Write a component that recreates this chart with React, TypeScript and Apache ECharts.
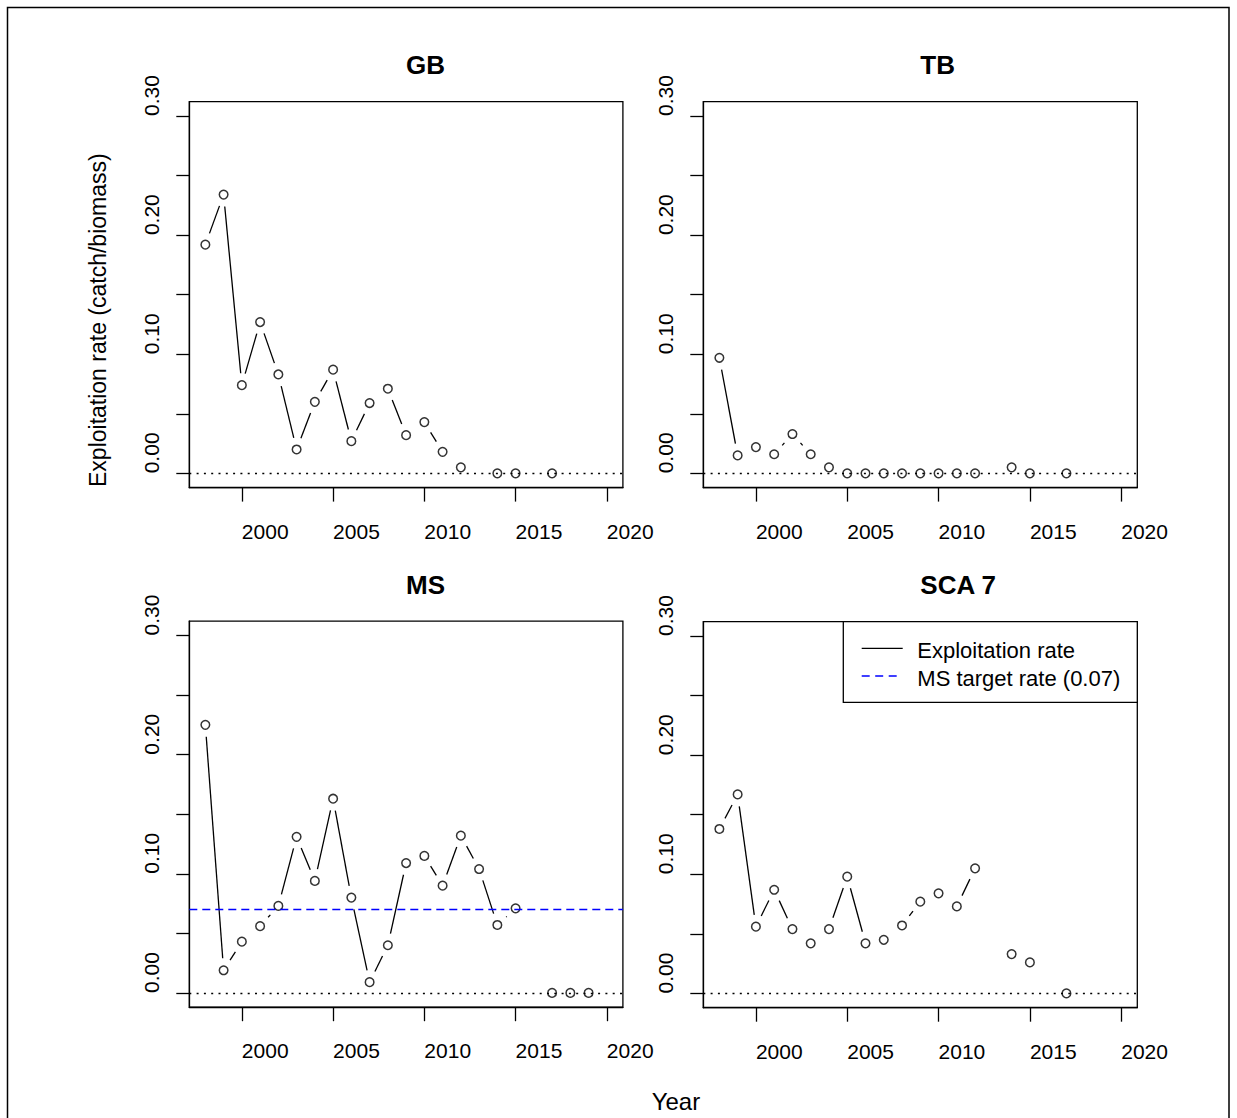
import React, { useEffect, useRef } from "react";
import * as echarts from "echarts";

// ---- data ----
const years = [1998, 1999, 2000, 2001, 2002, 2003, 2004, 2005, 2006, 2007, 2008, 2009, 2010, 2011, 2012, 2013, 2014, 2015, 2016, 2017, 2018, 2019];

const gbRate = [0.192, 0.234, 0.074, 0.127, 0.083, 0.020, 0.060, 0.087, 0.027, 0.059, 0.071, 0.032, 0.043, 0.018, 0.005, null, 0.0, 0.0, null, 0.0, null, null];
const tbRate = [0.097, 0.015, 0.022, 0.016, 0.033, 0.016, 0.005, 0.0, 0.0, 0.0, 0.0, 0.0, 0.0, 0.0, 0.0, null, 0.005, 0.0, null, 0.0, null, null];
const msRate = [0.225, 0.019, 0.043, 0.056, 0.073, 0.131, 0.094, 0.163, 0.080, 0.009, 0.040, 0.109, 0.115, 0.090, 0.132, 0.104, 0.057, 0.071, null, 0.0, 0.0, 0.0];
const scaRate = [0.138, 0.167, 0.056, 0.087, 0.054, 0.042, 0.054, 0.098, 0.042, 0.045, 0.057, 0.077, 0.084, 0.073, 0.105, null, 0.033, 0.026, null, 0.0, null, null];

const panelTitles = ["GB", "TB", "MS", "SCA 7"];
const yTicks = [0, 0.05, 0.1, 0.15, 0.2, 0.25, 0.3];
const yLabels = [0, 0.1, 0.2, 0.3];
const xTicks = [2000, 2005, 2010, 2015, 2020];
const msTarget = 0.07;
const legendLabels = ["Exploitation rate", "MS target rate (0.07)"];
const yAxisTitle = "Exploitation rate (catch/biomass)";
const xAxisTitle = "Year";

const FONT = "'Liberation Sans', Arial, Helvetica, sans-serif";
const LW = 1.3;
const GAP = 12;

const grids = [
  { left: 189.3, top: 101.7, width: 433.6, height: 385.9 },
  { left: 703.3, top: 101.7, width: 434, height: 385.9 },
  { left: 189.3, top: 621.2, width: 433.6, height: 386 },
  { left: 703.3, top: 621.7, width: 434, height: 386 },
];

function pts(vals: (number | null)[]) {
  const out: number[][] = [];
  vals.forEach((v, i) => {
    if (v !== null) out.push([years[i], v]);
  });
  return out;
}

function segSeries(vals: (number | null)[], gi: number) {
  const p = pts(vals);
  return {
    type: "custom",
    xAxisIndex: gi,
    yAxisIndex: gi,
    data: p,
    encode: { x: 0, y: 1 },
    silent: true,
    renderItem: (params: any, api: any) => {
      const i = params.dataIndex;
      if (i >= p.length - 1) return null;
      if (p[i + 1][0] !== p[i][0] + 1) return null;
      const a = api.coord(p[i]);
      const b = api.coord(p[i + 1]);
      const dx = b[0] - a[0];
      const dy = b[1] - a[1];
      const d = Math.hypot(dx, dy);
      if (d <= 2 * GAP) return null;
      const ux = dx / d;
      const uy = dy / d;
      return {
        type: "line",
        shape: { x1: a[0] + ux * GAP, y1: a[1] + uy * GAP, x2: b[0] - ux * GAP, y2: b[1] - uy * GAP },
        style: { stroke: "#000", lineWidth: LW },
      };
    },
  };
}

function pointSeries(vals: (number | null)[], gi: number, extraLines: any[] = []) {
  return {
    type: "scatter",
    xAxisIndex: gi,
    yAxisIndex: gi,
    data: pts(vals),
    symbol: "circle",
    symbolSize: 8.6,
    silent: true,
    itemStyle: { color: "rgba(0,0,0,0)", borderColor: "#000", borderWidth: 1.5 },
    markLine: {
      silent: true,
      symbol: "none",
      label: { show: false },
      lineStyle: { type: [2, 5.3], color: "#000", width: LW },
      data: [{ yAxis: 0 }, ...extraLines],
    },
    z: 3,
  };
}

export default function App() {
  const ref = useRef<HTMLDivElement>(null);
  useEffect(() => {
    if (!ref.current) return;
    const chart = echarts.init(ref.current, null, { renderer: "svg" });
    const all = [gbRate, tbRate, msRate, scaRate];

    const xAxes = grids.map((_, gi) => ({
      type: "value",
      gridIndex: gi,
      min: 1997.12,
      max: 2020.88,
      axisLine: { show: true, onZero: false, lineStyle: { color: "#000", width: LW } },
      axisTick: { show: true, customValues: xTicks, length: 14, inside: false, lineStyle: { color: "#000", width: LW } },
      axisLabel: {
        show: true,
        customValues: xTicks,
        formatter: (v: number) => String(Math.round(v)),
        align: "left",
        verticalAlign: "middle",
        margin: 43.5,
        fontSize: 21,
        fontFamily: FONT,
        color: "#000",
      },
      splitLine: { show: false },
    }));

    const yAxes = grids.map((_, gi) => ({
      type: "value",
      gridIndex: gi,
      min: -0.012,
      max: 0.312,
      axisLine: { show: true, onZero: false, lineStyle: { color: "#000", width: LW } },
      axisTick: { show: true, customValues: yTicks, length: 13, inside: false, lineStyle: { color: "#000", width: LW } },
      axisLabel: {
        show: true,
        customValues: yLabels,
        formatter: (v: number) => v.toFixed(2),
        rotate: 90,
        align: "left",
        verticalAlign: "middle",
        margin: 38,
        fontSize: 21,
        fontFamily: FONT,
        color: "#000",
      },
      splitLine: { show: false },
    }));

    const series: any[] = [];
    all.forEach((vals, gi) => {
      series.push(segSeries(vals, gi));
      const extra =
        gi === 2
          ? [{ yAxis: msTarget, lineStyle: { color: "#0000ff", type: [8, 5], width: LW } }]
          : [];
      series.push(pointSeries(vals, gi, extra));
    });

    const titlePos = [
      [406, 65],
      [920.3, 65],
      [406, 585],
      [920.3, 585],
    ];

    const graphics: any[] = [
      {
        type: "rect",
        shape: { x: 7.5, y: 7.5, width: 1221.5, height: 1130 },
        style: { fill: "none", stroke: "#000", lineWidth: 1.5 },
        silent: true,
      },
      ...panelTitles.map((t, i) => ({
        type: "text",
        x: titlePos[i][0],
        y: titlePos[i][1],
        style: {
          text: t,
          fontSize: 26,
          fontWeight: "bold",
          fontFamily: FONT,
          fill: "#000",
          textAlign: "left",
          textVerticalAlign: "middle",
        },
      })),
      {
        type: "text",
        x: 98,
        y: 487,
        rotation: Math.PI / 2,
        style: {
          text: yAxisTitle,
          fontSize: 23,
          fontFamily: FONT,
          fill: "#000",
          textAlign: "left",
          textVerticalAlign: "middle",
        },
      },
      {
        type: "text",
        x: 651.7,
        y: 1101.5,
        style: {
          text: xAxisTitle,
          fontSize: 24,
          fontFamily: FONT,
          fill: "#000",
          textAlign: "left",
          textVerticalAlign: "middle",
        },
      },
      // legend
      {
        type: "rect",
        shape: { x: 843.3, y: 621.7, width: 294, height: 80.6 },
        style: { fill: "#fff", stroke: "#000", lineWidth: LW },
        z: 10,
      },
      {
        type: "line",
        shape: { x1: 861.7, y1: 648.3, x2: 902.7, y2: 648.3 },
        style: { stroke: "#000", lineWidth: LW },
        z: 11,
      },
      {
        type: "line",
        shape: { x1: 861.7, y1: 676, x2: 896.7, y2: 676 },
        style: { stroke: "#0000ff", lineWidth: LW, lineDash: [8, 5.5] },
        z: 11,
      },
      {
        type: "text",
        x: 917.3,
        y: 650.7,
        z: 11,
        style: {
          text: legendLabels[0],
          fontSize: 22,
          fontFamily: FONT,
          fill: "#000",
          textAlign: "left",
          textVerticalAlign: "middle",
        },
      },
      {
        type: "text",
        x: 917.3,
        y: 678.3,
        z: 11,
        style: {
          text: legendLabels[1],
          fontSize: 22,
          fontFamily: FONT,
          fill: "#000",
          textAlign: "left",
          textVerticalAlign: "middle",
        },
      },
    ];

    chart.setOption({
      animation: false,
      backgroundColor: "#fff",
      grid: grids.map((g) => ({
        ...g,
        show: true,
        borderColor: "#000",
        borderWidth: LW,
        backgroundColor: "rgba(0,0,0,0)",
        containLabel: false,
      })),
      xAxis: xAxes,
      yAxis: yAxes,
      series,
      graphic: graphics,
    });
    return () => chart.dispose();
  }, []);

  return (
    <div
      ref={ref}
      style={{ position: "absolute", left: 0, top: 0, width: 1237, height: 1118, background: "#fff" }}
    />
  );
}
